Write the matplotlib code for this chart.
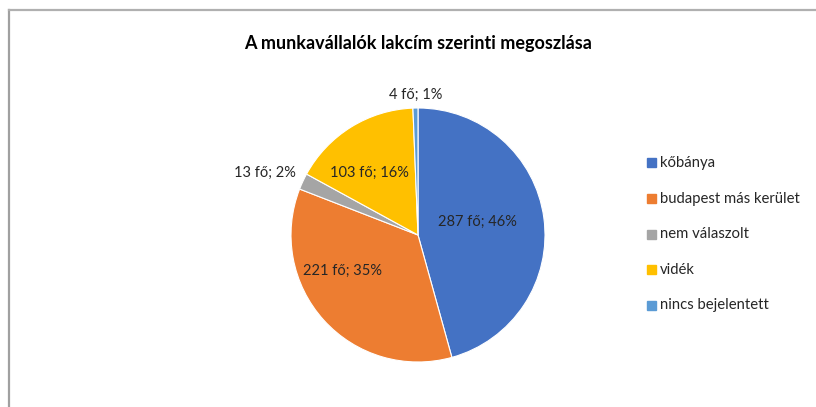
import matplotlib.pyplot as plt
import numpy as np

# lakcím szerinti megoszlás (fő)
kategoriak = ['kőbánya', 'budapest más kerület', 'nem válaszolt', 'vidék', 'nincs bejelentett']
letszam = [287, 221, 13, 103, 4]
szinek = ['#4472C4', '#ED7D31', '#A5A5A5', '#FFC000', '#5B9BD5']

# címkék távolsága a középponttól (sugár arányában) és szögeltolás fokban
cimke_tav = [0.48, 0.66, 1.30, 0.62, 1.10]
cimke_szog = [5, -17, 3, 6, 0]

plt.rcParams['font.family'] = ['Lato', 'DejaVu Sans']

W, H = 816, 407
fig = plt.figure(figsize=(W / 100, H / 100), dpi=100)

# keret: csak a bal és felső szél látszik
fig.add_artist(plt.Line2D([8.5 / W, 8.5 / W], [0, 1 - 9.5 / H], color='#A0A0A0', lw=1.6))
fig.add_artist(plt.Line2D([8.5 / W, 1], [1 - 9.5 / H, 1 - 9.5 / H], color='#B0B0B0', lw=1.6))

cx, cy, r = 418, 235, 127
ax = fig.add_axes([(cx - r) / W, (H - cy - r) / H, 2 * r / W, 2 * r / H])

wedges, _ = ax.pie(letszam, colors=szinek, startangle=90, counterclock=False,
                   radius=1, wedgeprops=dict(edgecolor='white', linewidth=0.8))
ax.set_xlim(-1, 1)
ax.set_ylim(-1, 1)
ax.set_aspect('equal')
ax.axis('off')

osszes = sum(letszam)
for w, n, d, da in zip(wedges, letszam, cimke_tav, cimke_szog):
    szog = np.deg2rad((w.theta1 + w.theta2) / 2 + da)
    szazalek = round(n / osszes * 100)
    ax.text(d * np.cos(szog), d * np.sin(szog), f'{n} fő; {szazalek}%',
            ha='center', va='center', fontsize=10.5, color='#262626', clip_on=False)

fig.text(418 / W, 1 - 44 / H, 'A munkavállalók lakcím szerinti megoszlása',
         ha='center', va='center', fontsize=13, fontweight='bold', color='black')

# jelmagyarázat
for i, (k, c) in enumerate(zip(kategoriak, szinek)):
    y = 1 - (163 + i * 35.5) / H
    fig.add_artist(plt.Rectangle((647 / W, y - 4.5 / H), 9 / W, 9 / H, color=c,
                                 transform=fig.transFigure))
    fig.text(660 / W, y, k, ha='left', va='center', fontsize=10.7, color='#262626')

fig.savefig('out.png', dpi=100)
